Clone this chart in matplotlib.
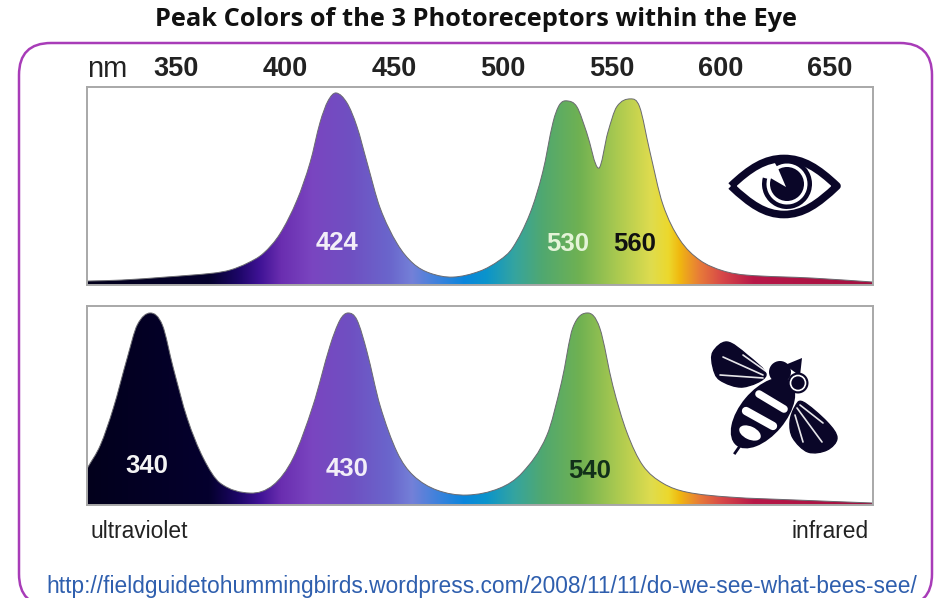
import numpy as np
import matplotlib
matplotlib.use("Agg")
import matplotlib.pyplot as plt
from matplotlib.colors import LinearSegmentedColormap
from matplotlib.patches import Circle, Ellipse, FancyBboxPatch, PathPatch, Polygon, Wedge
from matplotlib.path import Path

plt.rcParams['font.family'] = ['Liberation Sans', 'DejaVu Sans']

# wavelength (nm) and relative response
human_nm = [309.2, 324.8, 345, 367, 374.8, 382.6, 390, 397.7, 405.5, 411.5, 416, 419.7, 423.4, 428.4, 433, 437.6,
            443.6, 451.4, 458.7, 466.5, 477, 489.4, 498.6, 504.6, 512.4, 518.3, 523, 526, 529.4, 534,
            538.5, 544, 548.2, 552.3, 558.7, 562.8, 567.4, 573.4, 581.2, 590.4, 601, 612, 642.2, 670]
human_resp = [0.02, 0.025, 0.04, 0.06, 0.076, 0.11, 0.16, 0.26, 0.43, 0.62, 0.82, 0.93, 0.97, 0.92, 0.80, 0.62,
              0.39, 0.21, 0.11, 0.06, 0.04, 0.07, 0.126, 0.19, 0.36, 0.57, 0.82, 0.91, 0.93, 0.90,
              0.77, 0.59, 0.77, 0.90, 0.94, 0.90, 0.68, 0.41, 0.23, 0.126, 0.072, 0.05, 0.035, 0.015]
bee_nm = [309.2, 315.1, 321.1, 327.5, 332.1, 338.1, 343.6, 348.6, 355, 362.4, 370.2, 384, 394.5, 403.7,
          412.8, 420.6, 425.2, 428.9, 433, 437.6, 443.6, 451.4, 458.7, 469.7, 483.5, 498.6, 509.2,
          520.2, 527, 532.1, 539, 544.5, 550.5, 556.9, 564.2, 573.4, 584.4, 604.1, 634.9, 670]
bee_resp = [0.186, 0.30, 0.487, 0.74, 0.905, 0.965, 0.905, 0.69, 0.437, 0.236, 0.11, 0.06, 0.10, 0.236,
            0.50, 0.80, 0.93, 0.965, 0.93, 0.77, 0.50, 0.266, 0.15, 0.075, 0.05, 0.085, 0.166,
            0.35, 0.62, 0.89, 0.965, 0.89, 0.60, 0.367, 0.20, 0.11, 0.065, 0.04, 0.025, 0.01]

tick_nm = [350, 400, 450, 500, 550, 600, 650]

human_peaks = [(424, 0.21, '424', '#f2eef8'), (530, 0.205, '530', '#e4f4d8'), (560.5, 0.205, '560', '#111111')]
bee_peaks = [(336.5, 0.195, '340', '#f4f4f4'), (428.5, 0.18, '430', '#f2eef8'), (540, 0.17, '540', '#12301a')]

spectrum_nm = [309, 365, 378, 388, 398, 412, 430, 448, 458, 470, 482, 492, 505, 518, 535, 552, 568,
               576, 581, 590, 600, 615, 670]
spectrum_col = ['#02001c', '#05012e', '#1c0666', '#3f1295', '#6a2eb0', '#7a45c0', '#6f50c2', '#6a66cc',
                '#7480d8', '#3d82dc', '#0a86dc', '#0a94cc', '#34a4a0', '#50a870', '#6fb152', '#a9c950',
                '#dfdc4e', '#ecd82c', '#f0b810', '#e87c38', '#d84a48', '#b81848', '#a30f40']

NM0, NM1 = 309, 670
W, H = 934, 598
ICON = '#0a0628'
spectrum = LinearSegmentedColormap.from_list(
    'spectrum', [((n - NM0) / (NM1 - NM0), c) for n, c in zip(spectrum_nm, spectrum_col)], N=512)


def smooth_path(x, y):
    # catmull-rom through the read points, closed along the base
    p = np.column_stack([x, y])
    verts = [(x[0], 0), tuple(p[0])]
    codes = [Path.MOVETO, Path.LINETO]
    for i in range(len(p) - 1):
        a = p[max(i - 1, 0)]
        b = p[i]
        c = p[i + 1]
        d = p[min(i + 2, len(p) - 1)]
        dx = c[0] - b[0]
        t1 = (c - a) / max(c[0] - a[0], 1e-6) * dx / 3
        t2 = (d - b) / max(d[0] - b[0], 1e-6) * dx / 3
        verts += [tuple(b + t1), tuple(c - t2), tuple(c)]
        codes += [Path.CURVE4] * 3
    verts += [(x[-1], 0), (x[0], 0)]
    codes += [Path.LINETO, Path.CLOSEPOLY]
    return Path(verts, codes)


def blob(pts):
    # closed smooth outline for the icon wings
    p = np.array(pts, dtype=float)
    n = len(p)
    verts = [tuple(p[0])]
    codes = [Path.MOVETO]
    for i in range(n):
        a, b, c, d = p[i - 1], p[i], p[(i + 1) % n], p[(i + 2) % n]
        verts += [tuple(b + (c - a) / 6), tuple(c - (d - b) / 6), tuple(c)]
        codes += [Path.CURVE4] * 3
    return Path(verts, codes)


def panel(top, bottom, nm, resp, peaks, show_ticks):
    ax = fig.add_axes([87 / W, 1 - bottom / H, (873 - 87) / W, (bottom - top) / H])
    img = ax.imshow(np.linspace(0, 1, 512)[None, :], cmap=spectrum, aspect='auto',
                    extent=[NM0, NM1, 0, 1], vmin=0, vmax=1, interpolation='bilinear')
    shape = PathPatch(smooth_path(nm, resp), transform=ax.transData, fc='none', ec='#6a6a70', lw=0.7)
    ax.add_patch(shape)
    img.set_clip_path(shape)
    ax.set_xlim(NM0, NM1)
    ax.set_ylim(0, 1)
    ax.set_yticks([])
    for s in ax.spines.values():
        s.set_color('#a8a8a8')
        s.set_linewidth(1.4)
    if show_ticks:
        ax.xaxis.tick_top()
        ax.set_xticks(tick_nm)
        ax.set_xticklabels([str(t) for t in tick_nm], fontsize=19.5, color='#222222', fontweight='bold')
        ax.tick_params(axis='x', length=0, pad=3.5)
    else:
        ax.set_xticks([])
    for x, y, s, c in peaks:
        ax.text(x, y, s, color=c, fontsize=18.5, fontweight='bold', ha='center', va='center')
    return ax


def wing(ov, pts, veins):
    ov.add_patch(PathPatch(blob(pts), fc=ICON, ec=ICON, lw=1))
    for a, b in veins:
        ov.plot([a[0], b[0]], [a[1], b[1]], color='white', lw=1.2, solid_capstyle='round', alpha=0.9)


fig = plt.figure(figsize=(W / 100, H / 100), dpi=100, facecolor='white')

# page level overlay in pixels for the frame and the two icons
ov = fig.add_axes([0, 0, 1, 1])
ov.set_xlim(0, W)
ov.set_ylim(H, 0)
ov.axis('off')
ov.add_patch(FancyBboxPatch((19, 43), 913, 563, boxstyle='round,pad=0,rounding_size=32',
                            fc='white', ec='#a83cb8', lw=1.8))

panel(87, 285, human_nm, human_resp, human_peaks, True)
panel(306, 505, bee_nm, bee_resp, bee_peaks, False)

ov2 = fig.add_axes([0, 0, 1, 1], facecolor='none')
ov2.set_xlim(0, W)
ov2.set_ylim(H, 0)
ov2.axis('off')

# eye icon
eye_outer = Path([(731, 186), (750, 168), (765, 158.5), (784, 158.5), (803, 158.5), (818, 168), (837, 186),
                  (818, 204), (803, 214.5), (784, 214.5), (765, 214.5), (750, 204), (731, 186)],
                 [Path.MOVETO] + [Path.CURVE4] * 12)
ov2.add_patch(PathPatch(eye_outer, fc='white', ec=ICON, lw=5.5, joinstyle='round'))
ov2.add_patch(Wedge((787, 184), 25, -120, 195, width=4.5, fc=ICON, ec='none'))
ov2.add_patch(Circle((787, 184), 17, fc=ICON, ec='none'))
ov2.add_patch(Polygon([(786, 187), (767, 176), (777, 166)], closed=True, fc='white', ec='none'))

# bee icon
wing(ov2, [(713, 352), (727, 342), (747, 355), (766, 375), (743, 387), (720, 380), (713, 367)],
     [((763, 375), (723, 357)), ((763, 378), (720, 375)), ((767, 372), (743, 355))])
wing(ov2, [(803, 402), (827, 422), (837, 438), (827, 450), (808, 452), (793, 438), (790, 422), (795, 407)],
     [((797, 408), (822, 442)), ((795, 415), (803, 442)), ((800, 405), (823, 423))])
ov2.add_patch(Ellipse((763, 413), 84, 46, angle=-50, fc=ICON, ec='none'))
ov2.plot([759, 784], [394, 409], color='white', lw=5.5, solid_capstyle='round')
ov2.plot([746, 773], [411, 426], color='white', lw=6, solid_capstyle='round')
ov2.add_patch(Ellipse((750, 433), 23, 13, angle=25, fc='white', ec='none'))
ov2.plot([742, 735], [443, 453], color=ICON, lw=2)
ov2.add_patch(Circle((780, 372), 11, fc=ICON, ec='none'))
ov2.add_patch(Polygon([(785, 365), (802, 358), (800, 376)], closed=True, fc=ICON, ec='none'))
ov2.add_patch(Circle((798, 383), 10.5, fc=ICON, ec='none'))
ov2.add_patch(Circle((798, 383), 7.5, fc='none', ec='white', lw=1.2))

fig.text(155 / W, 1 - 20 / H, 'Peak Colors of the 3 Photoreceptors within the Eye', fontsize=18.3, fontweight='bold',
         family=['Open Sans', 'DejaVu Sans'], color='#111111', ha='left', va='center')
fig.text(87 / W, 1 - 69 / H, 'nm', fontsize=21, color='#222222', ha='left', va='center')
fig.text(90 / W, 1 - 531 / H, 'ultraviolet', fontsize=16.4, color='#222222', ha='left', va='center')
fig.text(869 / W, 1 - 531 / H, 'infrared', fontsize=16.4, color='#222222', ha='right', va='center')
fig.text(46.5 / W, 1 - 587 / H, 'http://fieldguidetohummingbirds.wordpress.com/2008/11/11/do-we-see-what-bees-see/',
         fontsize=16.4, color='#2f5fae', ha='left', va='center')

fig.savefig('out.png', dpi=100)
